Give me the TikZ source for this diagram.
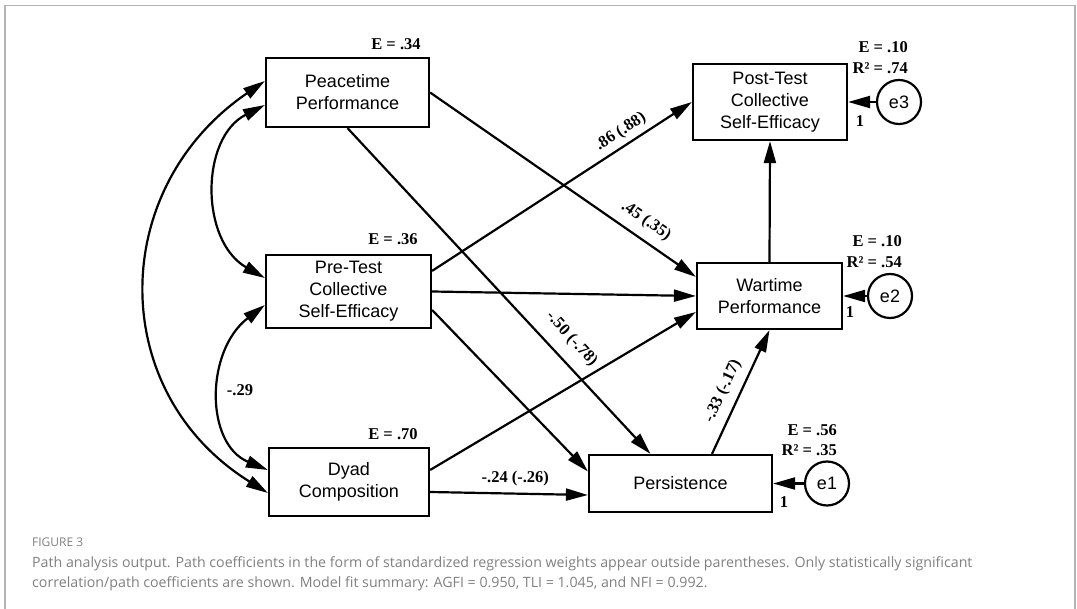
\documentclass[tikz,border=0pt]{standalone}
\usepackage{fontspec}
\setmainfont{Liberation Sans}
\newfontfamily\labfont{Liberation Serif}
\newfontfamily\capfont{Open Sans}
\usetikzlibrary{arrows.meta}
\definecolor{framegray}{HTML}{B4B4B4}
\definecolor{capgray}{HTML}{808080}
\tikzset{
  var/.style={draw, line width=2.2pt, inner sep=0pt, align=center, font=\fontsize{18}{22}\selectfont},
  err/.style={draw, circle, line width=2.2pt, minimum size=44pt, inner sep=0pt, font=\fontsize{18}{22}\selectfont},
  lab/.style={inner sep=0pt, font=\labfont\bfseries\fontsize{16.5}{20}\selectfont},
  path/.style={line width=2.2pt, -{Triangle[length=22pt,width=12pt]}},
  cov/.style={line width=2.2pt, {Triangle[length=22pt,width=12pt]}-{Triangle[length=22pt,width=12pt]}},
  captxt/.style={inner sep=0pt, text=capgray, font=\capfont\fontsize{14.2}{20}\selectfont},
}
\begin{document}
\begin{tikzpicture}[x=1pt, y=-1pt]
\useasboundingbox (0,0) rectangle (1077,609);
% frame
\draw[framegray, line width=1.5pt] (5,612) -- (5,5.5) -- (1075,5.5) -- (1075,612);

% variables
\node[var, minimum width=163pt, minimum height=69pt] (pp) at (347.5,92.5) {Peacetime\\Performance};
\node[var, minimum width=165pt, minimum height=73pt] (pre) at (348.5,291.5) {Pre-Test\\Collective\\Self-Efficacy};
\node[var, minimum width=160pt, minimum height=68pt] (dyad) at (349,482) {Dyad\\Composition};
\node[var, minimum width=154pt, minimum height=76pt] (post) at (770,102) {Post-Test\\Collective\\Self-Efficacy};
\node[var, minimum width=145pt, minimum height=66pt] (war) at (769.5,296) {Wartime\\Performance};
\node[var, minimum width=183pt, minimum height=57pt] (pers) at (680.5,483.5) {Persistence};
\node[err] (e3) at (899,102) {e3};
\node[err] (e2) at (890,296) {e2};
\node[err] (e1) at (827,483.5) {e1};

% E / R2 labels
\node[lab] (epp) at (396,44) {E = .34};
\node[lab] (epre) at (393,239) {E = .36};
\node[lab] (edyad) at (393,434) {E = .70};
\node[lab, anchor=east] (epost) at (908,47) {E = .10};
\node[lab, anchor=east] (rpost) at (908,68) {R² = .74};
\node[lab, anchor=east] (ewar) at (902,241) {E = .10};
\node[lab, anchor=east] (rwar) at (902,262) {R² = .54};
\node[lab, anchor=east] (epers) at (837,430) {E = .56};
\node[lab, anchor=east] (rpers) at (837,450) {R² = .35};
\node[lab] (one3) at (860,121) {1};
\node[lab] (one2) at (850,312) {1};
\node[lab] (one1) at (784,502) {1};

% regression paths
\draw[path] (pp.east) -- ([yshift=-15pt]war.north west)
  node[lab, pos=0.775, sloped, above=9pt] {.45 (.35)};
\draw[path] (pp.south) -- ([xshift=-30pt]pers.north)
  node[lab, pos=0.69, sloped, above=12pt] {-.50 (-.78)};
\draw[path] ([yshift=-17pt]pre.north east) -- (post.west)
  node[lab, pos=0.755, sloped, above=5pt] {.86 (.88)};
\draw[path] (pre.east) -- (war.west);
\draw[path] ([yshift=-18.5pt]pre.east) -- ([yshift=12pt]pers.west);
\draw[path] ([yshift=12pt]dyad.east) -- ([yshift=-16pt]war.west);
\draw[path] ([yshift=-10pt]dyad.east) -- ([yshift=-11.5pt]pers.west)
  node[lab, pos=0.54, above=7pt] {-.24 (-.26)};
\draw[path] ([xshift=31.5pt]pers.north) -- (war.south)
  node[lab, pos=0.45, sloped, above=8pt] {-.33 (-.17)};
\draw[path] (war.north) -- (post.south);
\draw[path] (e1.west) -- (pers.east);
\draw[path] (e2.west) -- (war.east);
\draw[path] (e3.west) -- (post.east);

% covariances
\draw[cov] ([yshift=-12.5pt]pp.west) .. controls (200,138) and (200,241) .. ([yshift=13.5pt]pre.west);
\draw[cov] ([yshift=-13.5pt]pre.west) .. controls (205,351) and (205,444) .. ([yshift=12pt]dyad.west);
\draw[cov] ([yshift=11.5pt]pp.west) .. controls (107,189) and (107,393) .. ([yshift=-11pt]dyad.west);
\node[lab] (r29) at (240,390) {-.29};

% caption
\node[captxt, anchor=base west, font=\capfont\fontsize{12}{14}\selectfont] (fig) at (32,547) {FIGURE 3};
\node[captxt, anchor=base west] (cap1) at (32,567) {Path analysis output. Path coefficients in the form of standardized regression weights appear outside parentheses. Only statistically significant};
\node[captxt, anchor=base west] (cap2) at (32,587) {correlation/path coefficients are shown. Model fit summary: AGFI = 0.950, TLI = 1.045, and NFI = 0.992.};
\end{tikzpicture}
\end{document}
